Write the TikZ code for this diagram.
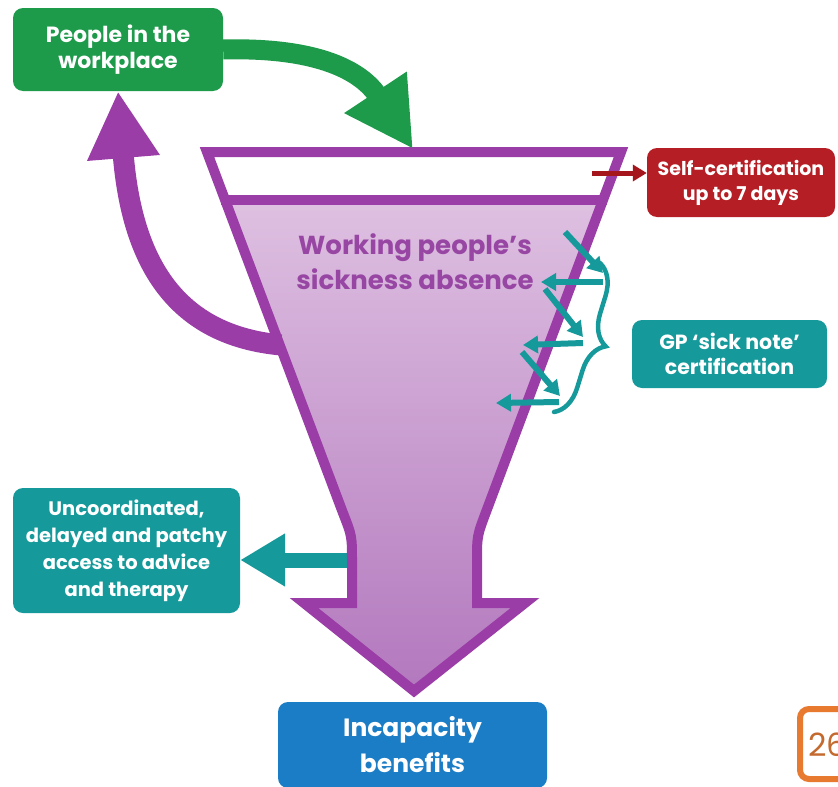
\documentclass[tikz,border=0pt]{standalone}
\usepackage{fontspec}
\setmainfont{Poppins}
\usetikzlibrary{arrows.meta,decorations.pathreplacing,calc}

\definecolor{wpgreen}{HTML}{1E9A4B}
\definecolor{wpteal}{HTML}{16999A}
\definecolor{wpred}{HTML}{B51E24}
\definecolor{wpredarrow}{HTML}{A5161C}
\definecolor{wpblue}{HTML}{1B7DC6}
\definecolor{wppurple}{HTML}{9B3DA7}
\definecolor{wptext}{HTML}{9747A3}
\definecolor{wplight}{HTML}{DEC0E1}
\definecolor{wpdark}{HTML}{B277BD}
\definecolor{wporange}{HTML}{E77A2E}
\definecolor{wporangetext}{HTML}{C46A2E}

% outline of the funnel that narrows into the downward arrow
\def\funnelpath{(207,152) -- (621,152) -- (486,512) .. controls (477,536) .. (477,562)
  -- (477,603) -- (525,603) -- (414,691) -- (304,603) -- (352,603) -- (352,562)
  .. controls (352,536) .. (343,513) -- cycle}

\tikzset{
  box/.style={rounded corners=10pt, text=white, align=center, inner sep=0pt,
    font=\bfseries\fontsize{19pt}{25pt}\selectfont},
  zig/.style={wpteal, line width=6pt, -{Triangle[length=15pt,width=17pt]}},
}

\begin{document}
\begin{tikzpicture}[x=1pt,y=-1pt]
\useasboundingbox (0,0) rectangle (838,787);
\clip (0,0) rectangle (838,787);

% boxes
\node[box, fill=wpgreen, minimum width=210pt, minimum height=83pt,
  font=\bfseries\fontsize{22pt}{26pt}\selectfont] (g) at (118,49.5)
  {People in the\\workplace};
\node[box, fill=wpred, minimum width=188pt, minimum height=69pt] (r) at (741,182.5)
  {Self-certification\\up to 7 days};
\node[box, fill=wpteal, minimum width=195pt, minimum height=68pt,
  font=\bfseries\fontsize{20.5pt}{25pt}\selectfont] (gp) at (729.5,354)
  {GP ‘sick note’\\certification};
\node[box, fill=wpteal, minimum width=227pt, minimum height=125pt,
  font=\bfseries\fontsize{19.5pt}{27pt}\selectfont] (u) at (126.5,550.5)
  {Uncoordinated,\\delayed and patchy\\access to advice\\and therapy};
\node[box, fill=wpblue, minimum width=269pt, minimum height=86pt,
  font=\bfseries\fontsize{25pt}{36pt}\selectfont] (inc) at (412.5,745)
  {Incapacity\\benefits};

% page number tab
\node[draw=wporange, line width=6pt, fill=white, rounded corners=9pt,
  minimum width=66pt, minimum height=70pt] (pg) at (833,744) {};
\node[text=wporangetext, font=\fontsize{32pt}{32pt}\selectfont, anchor=west] (pgno) at (805,745) {26};

% points on the funnel
\coordinate (ftop) at (413,149);
\coordinate (fl) at (281,345);
\coordinate (fs) at (352,560);
\coordinate (rs) at (592,173);

% filled body of the funnel
\begin{scope}
  \clip \funnelpath;
  \shade[top color=wplight, bottom color=wpdark] (190,200) rectangle (640,700);
\end{scope}

% return flow back to work
\draw[wppurple, line width=21pt, -{Triangle[length=67pt,width=68pt]}]
  (fl) .. controls (175,335) and (132,262) .. (g.south);

% delayed access arrow
\draw[wpteal, line width=15pt, -{Triangle[length=45pt,width=50pt]}] (fs) -- (fs -| u.east);

% funnel outline and the self-certification band
\draw[wppurple, line width=10pt, line join=miter] \funnelpath;
\draw[wppurple, line width=10pt] (221,200) -- (607,200);

\node[text=wptext, align=center, font=\bfseries\fontsize{26pt}{35pt}\selectfont] (lbl)
  at (415,262) {Working people’s\\sickness absence};

% sick note certifications
\coordinate (d1s) at (565,232); \coordinate (d1e) at (603,273);
\coordinate (h1s) at (603,282); \coordinate (h1e) at (541,282);
\coordinate (d2s) at (545,289); \coordinate (d2e) at (583,337);
\coordinate (h2s) at (583,343); \coordinate (h2e) at (523,345);
\coordinate (d3s) at (522,352); \coordinate (d3e) at (560,396);
\coordinate (h3s) at (559,402); \coordinate (h3e) at (496,403);
\draw[zig] (d1s) -- (d1e);
\draw[zig] (h1s) -- (h1e);
\draw[zig] (d2s) -- (d2e);
\draw[zig] (h2s) -- (h2e);
\draw[zig] (d3s) -- (d3e);
\draw[zig] (h3s) -- (h3e);

\coordinate (bt) at (600,263);
\coordinate (bb) at (554,412);
\draw[wpteal, line width=4.5pt, line cap=round, decorate,
  decoration={brace, amplitude=30pt}] (bt) -- (bb);

% self-certification arrow
\draw[wpredarrow, line width=5pt, -{Triangle[length=14pt,width=16pt]}] (rs) -- (rs -| r.west);

% entry into sickness absence
\draw[wpgreen, line width=20pt, -{Triangle[length=68pt,width=70pt]}]
  (g.east) .. controls (320,47) and (362,72) .. (ftop);
\end{tikzpicture}
\end{document}
